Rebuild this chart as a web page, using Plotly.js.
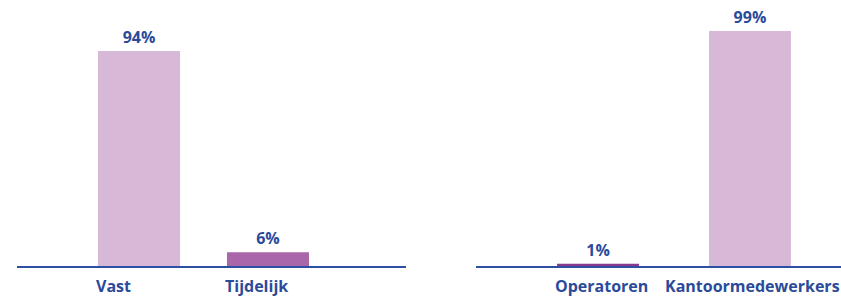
<!DOCTYPE html>
<html><head><meta charset="utf-8">
<script src="https://cdn.plot.ly/plotly-3.0.1.min.js"></script>
<style>html,body{margin:0;padding:0;background:#fff}#chart{width:841px;height:298px}</style>
</head><body><div id="chart"></div>
<script>
const contractCategories = ['Vast', 'Tijdelijk'];
const contractValues = [94, 6];
const contractColors = ['#d8b8d7', '#a966a8'];
const functionCategories = ['Operatoren', 'Kantoormedewerkers'];
const functionValues = [1, 99];
const functionColors = ['#8b3a8e', '#d8b8d7'];

const blue = '#2b4a9a';
const font = {family: 'Open Sans, sans-serif', size: 16, color: blue, weight: 700};

function valueText(vals) { return vals.map(v => '<b>' + v + '%</b>'); }

const traces = [
  {type: 'bar', x: contractCategories, y: contractValues, xaxis: 'x', yaxis: 'y',
   marker: {color: contractColors}, width: 0.636,
   text: valueText(contractValues), textposition: 'outside', constraintext: 'none',
   textfont: font, cliponaxis: false, hoverinfo: 'none'},
  {type: 'bar', x: functionCategories, y: functionValues, xaxis: 'x2', yaxis: 'y2',
   marker: {color: functionColors}, width: 0.539,
   text: valueText(functionValues), textposition: 'outside', constraintext: 'none',
   textfont: font, cliponaxis: false, hoverinfo: 'none'}
];

// category labels: left-aligned with the bar's left edge, last one kept inside the page
const annotations = [];
function addLabels(cats, xref, yref, barPx) {
  cats.forEach((c, i) => {
    const last = (xref === 'x2' && i === cats.length - 1);
    const base = {text: '<b>' + c + '</b>', y: 0, yref: yref, yanchor: 'top', yshift: -8,
      showarrow: false, font: font, borderpad: 0};
    annotations.push(last ? Object.assign(base, {x: 1, xref: 'paper', xanchor: 'right'})
      : Object.assign(base, {x: c, xref: xref, xanchor: 'left', xshift: -barPx / 2 - 3}));
  });
}
addLabels(contractCategories, 'x', 'y', 82);
addLabels(functionCategories, 'x2', 'y2', 82);

const axisCommon = {showgrid: false, zeroline: false, showline: true, linecolor: '#2e50a4', linewidth: 1.5,
  showticklabels: false, ticks: '', fixedrange: true};
const layout = {
  width: 841, height: 298, margin: {l: 0, r: 0, t: 0, b: 0},
  paper_bgcolor: '#fff', plot_bgcolor: '#fff', showlegend: false,
  font: font, annotations: annotations,
  xaxis: Object.assign({}, axisCommon, {domain: [17/841, 406/841], range: [-0.946, 2.07], anchor: 'y'}),
  xaxis2: Object.assign({}, axisCommon, {domain: [476/841, 1], range: [-0.803, 1.599], anchor: 'y2'}),
  yaxis: {domain: [32/298, 288/298], range: [0, 111.9], visible: false, fixedrange: true},
  yaxis2: {domain: [32/298, 288/298], range: [0, 107.8], visible: false, fixedrange: true}
};
Plotly.newPlot('chart', traces, layout, {displayModeBar: false, staticPlot: true});
</script></body></html>
